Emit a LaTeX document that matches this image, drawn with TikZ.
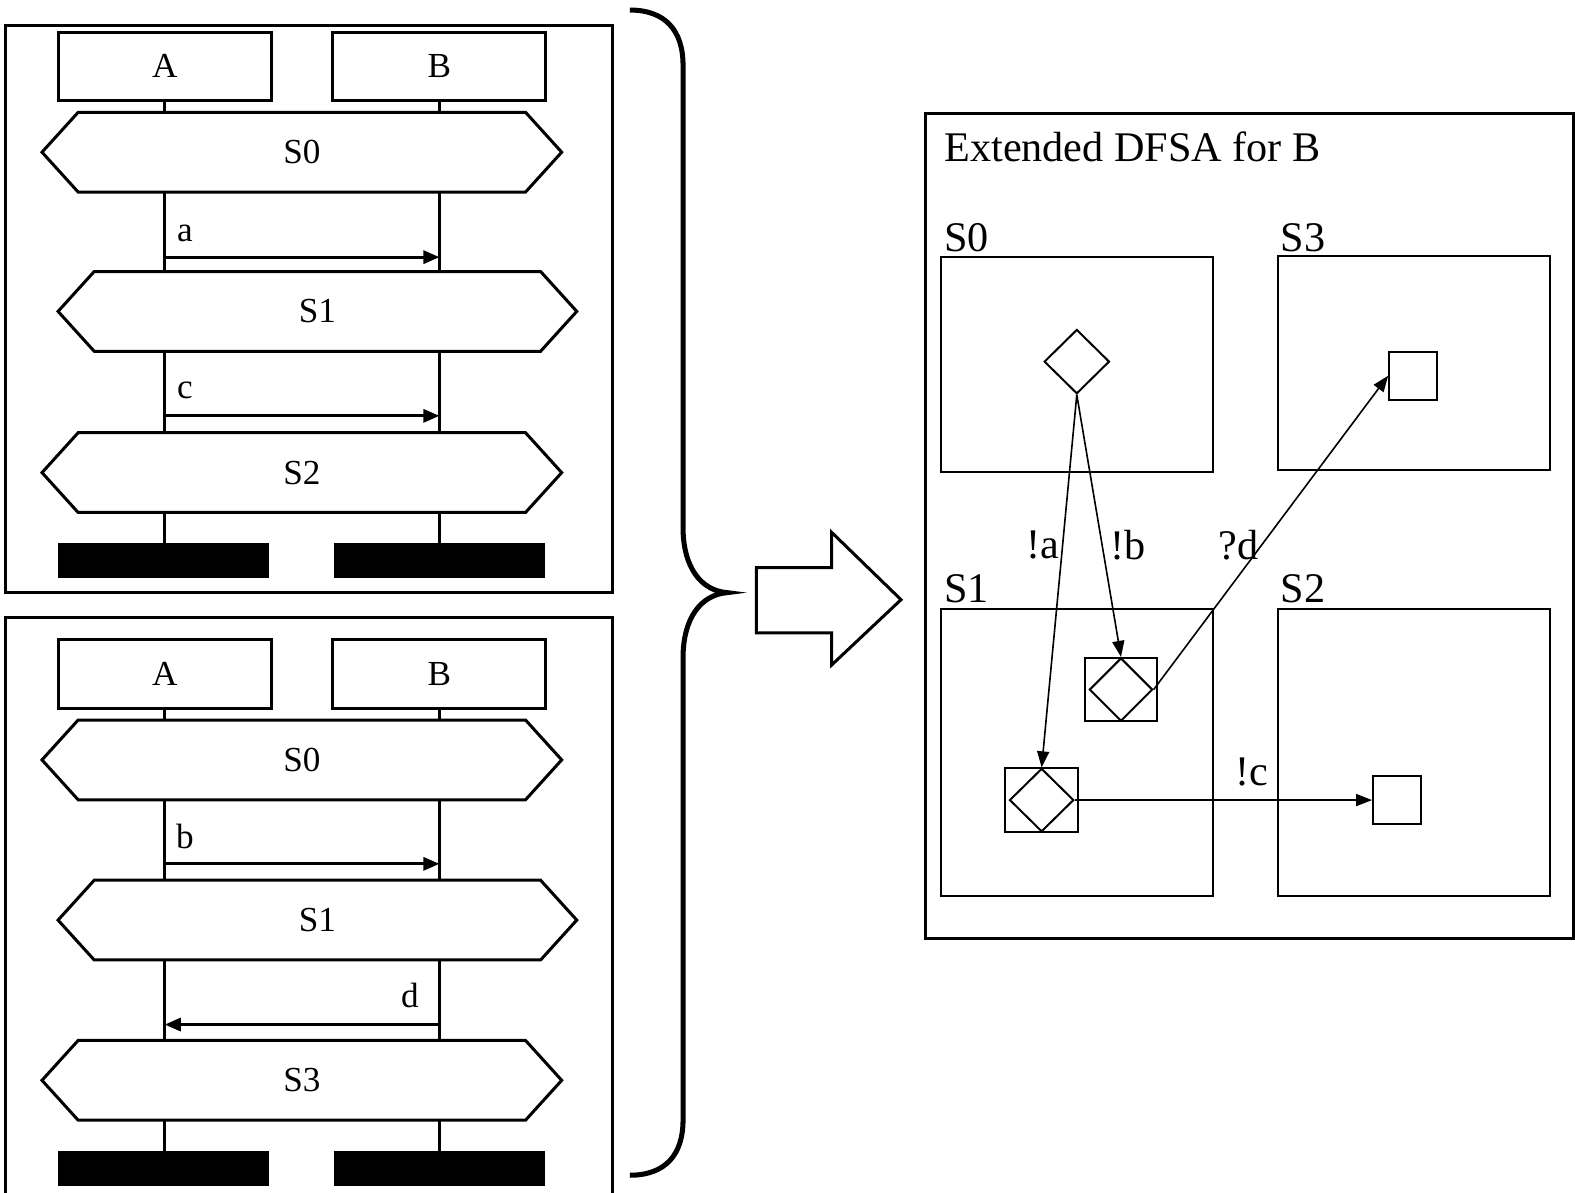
\documentclass[tikz,border=0pt]{standalone}
\usepackage{fontspec}
\setmainfont{Liberation Serif}
\usetikzlibrary{shapes.geometric,arrows.meta}
\newcommand{\hexnode}[6]{%
  \node[hexin,minimum width=#4pt] (#1) at (#2,#3) {#6};
  \draw[hexa] (#1.north west) -- (#1.north east) -- ([xshift=#5pt]#1.east) -- (#1.south east) -- (#1.south west) -- ([xshift=-#5pt]#1.west) -- cycle;}
\begin{document}
\begin{tikzpicture}[x=1pt,y=-1pt,
  frame/.style={draw,line width=3pt},
  hexin/.style={minimum height=79pt,inner sep=0pt,font=\fontsize{35}{40}\selectfont},
  hexa/.style={draw,line width=3pt,line join=miter},
  inst/.style={draw,line width=3pt,minimum width=212pt,minimum height=68pt,inner sep=0pt,font=\fontsize{35}{40}\selectfont},
  term/.style={fill=black,minimum width=210pt,minimum height=35pt,inner sep=0pt},
  life/.style={line width=3pt},
  msg/.style={line width=3pt,-{Triangle[length=16pt,width=13pt]}},
  lbl/.style={inner sep=0pt,font=\fontsize{35}{40}\selectfont},
  rlbl/.style={inner sep=0pt,font=\fontsize{42}{48}\selectfont},
  sbox/.style={draw,line width=2pt,inner sep=0pt},
  dia/.style={draw,diamond,line width=2pt,inner sep=0pt},
  tr/.style={line width=1.6pt,-{Triangle[length=16pt,width=12pt]}}]
\useasboundingbox (0,0) rectangle (1568,1187);

% ---------- top panel ----------
\draw[frame] (5,25) rectangle (610,590);
\node[inst] (ta) at (164,66) {A};
\node[inst] (tb) at (437.5,66) {B};
\hexnode{th0}{300.5}{151.5}{445}{36}{S0}
\hexnode{th1}{316}{310}{444}{36}{S1}
\hexnode{th2}{300.5}{470.5}{445}{36}{S2}
\node[term] (tka) at (163,558) {};
\node[term] (tkb) at (438,558) {};
\foreach \i in {ta,tb}{
  \draw[life] (\i.south) -- (\i.south |- th0.north);
  \draw[life] (\i.south |- th0.south) -- (\i.south |- th1.north);
  \draw[life] (\i.south |- th1.south) -- (\i.south |- th2.north);
  \draw[life] (\i.south |- th2.south) -- (\i.south |- tka.north);
}
\coordinate (ma1) at (164,256);
\coordinate (ma2) at (437.5,256);
\draw[msg] (ma1) -- (ma2);
\node[lbl,anchor=base] (la) at (184,240) {a};
\coordinate (mc1) at (164,414);
\coordinate (mc2) at (437.5,414);
\draw[msg] (mc1) -- (mc2);
\node[lbl,anchor=base] (lc) at (184,397) {c};

% ---------- bottom panel ----------
\draw[frame] (5,615) rectangle (610,1200);
\node[inst] (ba) at (164,671) {A};
\node[inst] (bb) at (437.5,671) {B};
\hexnode{bh0}{300.5}{756.5}{445}{36}{S0}
\hexnode{bh1}{316}{916}{444}{36}{S1}
\hexnode{bh2}{300.5}{1075.5}{445}{36}{S3}
\node[term] (bka) at (163,1163.5) {};
\node[term] (bkb) at (438,1163.5) {};
\foreach \i in {ba,bb}{
  \draw[life] (\i.south) -- (\i.south |- bh0.north);
  \draw[life] (\i.south |- bh0.south) -- (\i.south |- bh1.north);
  \draw[life] (\i.south |- bh1.south) -- (\i.south |- bh2.north);
  \draw[life] (\i.south |- bh2.south) -- (\i.south |- bka.north);
}
\coordinate (mb1) at (164,860);
\coordinate (mb2) at (437.5,860);
\draw[msg] (mb1) -- (mb2);
\node[lbl,anchor=base] (lb) at (184,845) {b};
\coordinate (md1) at (437.5,1020);
\coordinate (md2) at (164,1020);
\draw[msg] (md1) -- (md2);
\node[lbl,anchor=base] (ld) at (408,1003) {d};

% ---------- brace ----------
\draw[line width=5pt] (627,10) .. controls (662,10) and (680,30) .. (680,65)
  -- (680,525) .. controls (680,565) and (698,588) .. (724,590)
  .. controls (698,592) and (680,615) .. (680,655)
  -- (680,1115) .. controls (680,1150) and (662,1170) .. (627,1170);

% ---------- block arrow ----------
\draw[line width=3pt,line join=miter] (753,565) -- (828,565) -- (828,530) -- (897,597) -- (828,662) -- (828,630) -- (753,630) -- cycle;

% ---------- right panel ----------
\draw[frame] (921,113) rectangle (1566,934);
\node[rlbl,anchor=base west] (title) at (940,161) {Extended DFSA for B};
\node[rlbl,anchor=base west] (ls0) at (940,250) {S0};
\node[rlbl,anchor=base west] (ls3) at (1275,250) {S3};
\node[rlbl,anchor=base west] (ls1) at (940,600) {S1};
\node[rlbl,anchor=base west] (ls2) at (1275,600) {S2};
\node[sbox,minimum width=271pt,minimum height=214pt] (s0) at (1072.5,363) {};
\node[sbox,minimum width=271pt,minimum height=213pt] (s3) at (1407.5,361.5) {};
\node[sbox,minimum width=271pt,minimum height=286pt] (s1) at (1072.5,749) {};
\node[sbox,minimum width=271pt,minimum height=286pt] (s2) at (1407.5,749) {};

\node[dia,minimum width=65pt,minimum height=64pt] (d0) at (1072,360) {};
\node[sbox,minimum width=72pt,minimum height=63pt] (q1) at (1116,686.5) {};
\node[dia,minimum width=63pt,minimum height=63pt] (d1) at (1116,686.5) {};
\node[sbox,minimum width=72pt,minimum height=63pt] (q2) at (1037,796.5) {};
\node[dia,minimum width=64pt,minimum height=63pt] (d2) at (1037,796.5) {};
\node[sbox,minimum width=48pt,minimum height=48pt] (sq3) at (1407,374) {};
\node[sbox,minimum width=48pt,minimum height=47pt] (sq2) at (1391,796.5) {};

\draw[tr] (d0.south) -- (d2.north);
\draw[tr] (d0.south) -- (d1.north);
\draw[tr] (d1.east) -- (sq3.west);
\draw[tr] (d2.east) -- (sq2.west);
\node[rlbl] (ea) at (1038,543) {!a};
\node[rlbl] (eb) at (1123,543) {!b};
\node[rlbl] (ed) at (1233,543) {?d};
\node[rlbl] (ec) at (1246,769) {!c};
\end{tikzpicture}
\end{document}
